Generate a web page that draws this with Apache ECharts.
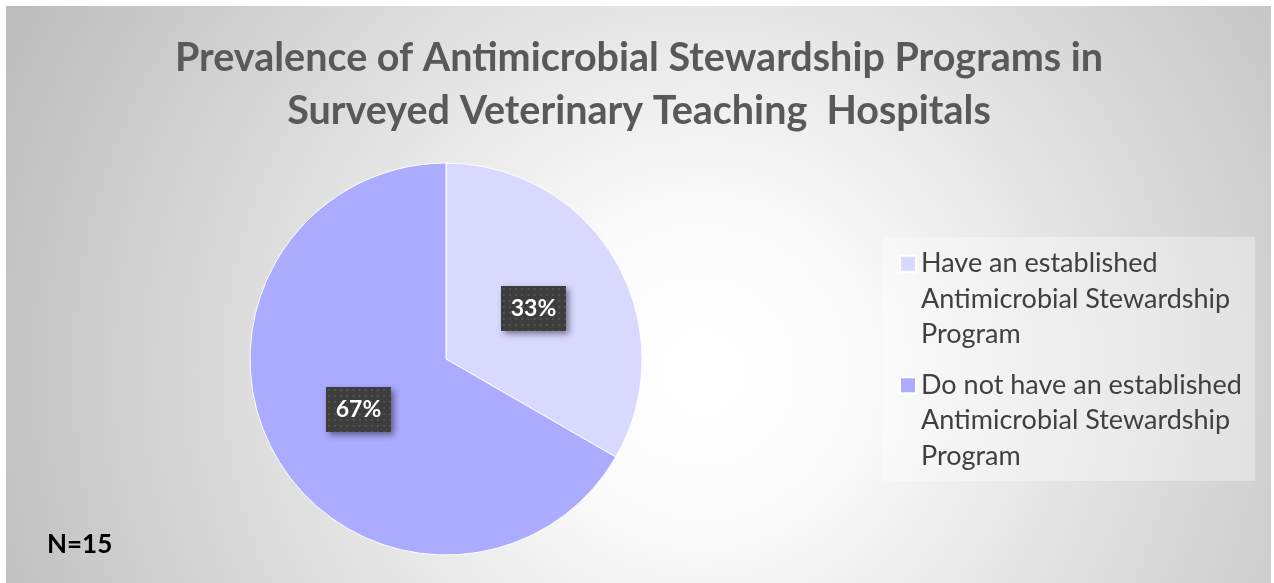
<!DOCTYPE html>
<html>
<head>
<meta charset="utf-8">
<script src="https://cdn.jsdelivr.net/npm/echarts@6/dist/echarts.min.js"></script>
<style>
html,body{margin:0;padding:0;background:#ffffff;}
#chart{width:1274px;height:583px;}
</style>
</head>
<body>
<div id="chart"></div>
<script>
// ---- data ----
var titleLines = ['Prevalence of Antimicrobial Stewardship Programs in', 'Surveyed Veterinary Teaching  Hospitals'];
var categories = ['Have an established\nAntimicrobial Stewardship\nProgram', 'Do not have an established\nAntimicrobial Stewardship\nProgram'];
var counts = [5, 10];
var sliceColors = ['#D9D9FF', '#ABABFF'];
var noteText = 'N=15';

// dotted label background
function makeDots(w, h) {
  var c = document.createElement('canvas');
  c.width = w; c.height = h;
  var g = c.getContext('2d');
  g.fillStyle = '#3d3d3d';
  g.fillRect(0, 0, w, h);
  g.fillStyle = '#525252';
  for (var y = 2; y < h; y += 6) {
    for (var x = 2; x < w; x += 6) {
      g.fillRect(x, y, 2, 2);
    }
  }
  return c;
}
var dots = makeDots(64, 45);

var chart = echarts.init(document.getElementById('chart'), null, {renderer: 'canvas'});
var fontFam = 'Lato, "Open Sans", sans-serif';

var option = {
  animation: false,
  title: {
    text: titleLines.join('\n'),
    left: 634,
    textAlign: 'center',
    top: 27,
    textStyle: {
      fontFamily: fontFam,
      fontWeight: 'bold',
      fontSize: 39.5,
      lineHeight: 53,
      color: '#595959'
    }
  },
  graphic: [
    {
      type: 'rect', z: -10, silent: true,
      shape: {x: 6, y: 6, width: 1265, height: 590},
      style: {
        fill: new echarts.graphic.RadialGradient(0.55, 0.62, 1.3, [
          {offset: 0, color: '#ffffff'},
          {offset: 0.2, color: '#fbfbfb'},
          {offset: 1, color: '#bdbdbd'}
        ])
      }
    },
    {
      type: 'rect', z: -5, silent: true,
      shape: {x: 883, y: 237, width: 372, height: 244},
      style: {fill: 'rgba(255,255,255,0.35)'}
    },
    {
      type: 'text', x: 47, y: 545,
      style: {
        text: noteText,
        fontFamily: fontFam,
        fontWeight: 'bold',
        fontSize: 26,
        verticalAlign: 'middle',
        fill: '#000000'
      }
    }
  ],
  legend: {
    orient: 'vertical',
    left: 894,
    top: 170,
    itemWidth: 16,
    itemHeight: 16,
    itemGap: -56,
    icon: 'rect',
    selectedMode: false,
    data: categories,
    formatter: function (name) { return '\n\n' + name; },
    textStyle: {
      fontFamily: fontFam,
      fontSize: 27,
      lineHeight: 35.5,
      color: '#404040'
    }
  },
  series: [{
    type: 'pie',
    center: [446, 359],
    radius: 196,
    startAngle: 90,
    clockwise: true,
    label: {
      show: true,
      position: 'inside',
      formatter: function (p) { return Math.round(p.percent) + '%'; },
      color: '#ffffff',
      fontFamily: fontFam,
      fontWeight: 'bold',
      fontSize: 23,
      backgroundColor: {image: dots},
      padding: [11, 10, 11, 10],
      shadowColor: 'rgba(0,0,0,0.45)',
      shadowBlur: 6,
      shadowOffsetX: 3,
      shadowOffsetY: 3
    },
    labelLine: {show: false},
    emphasis: {disabled: true},
    itemStyle: {borderColor: '#ffffff', borderWidth: 1},
    data: categories.map(function (name, i) {
      return {name: name, value: counts[i], itemStyle: {color: sliceColors[i]}};
    })
  }]
};
chart.setOption(option);
</script>
</body>
</html>
